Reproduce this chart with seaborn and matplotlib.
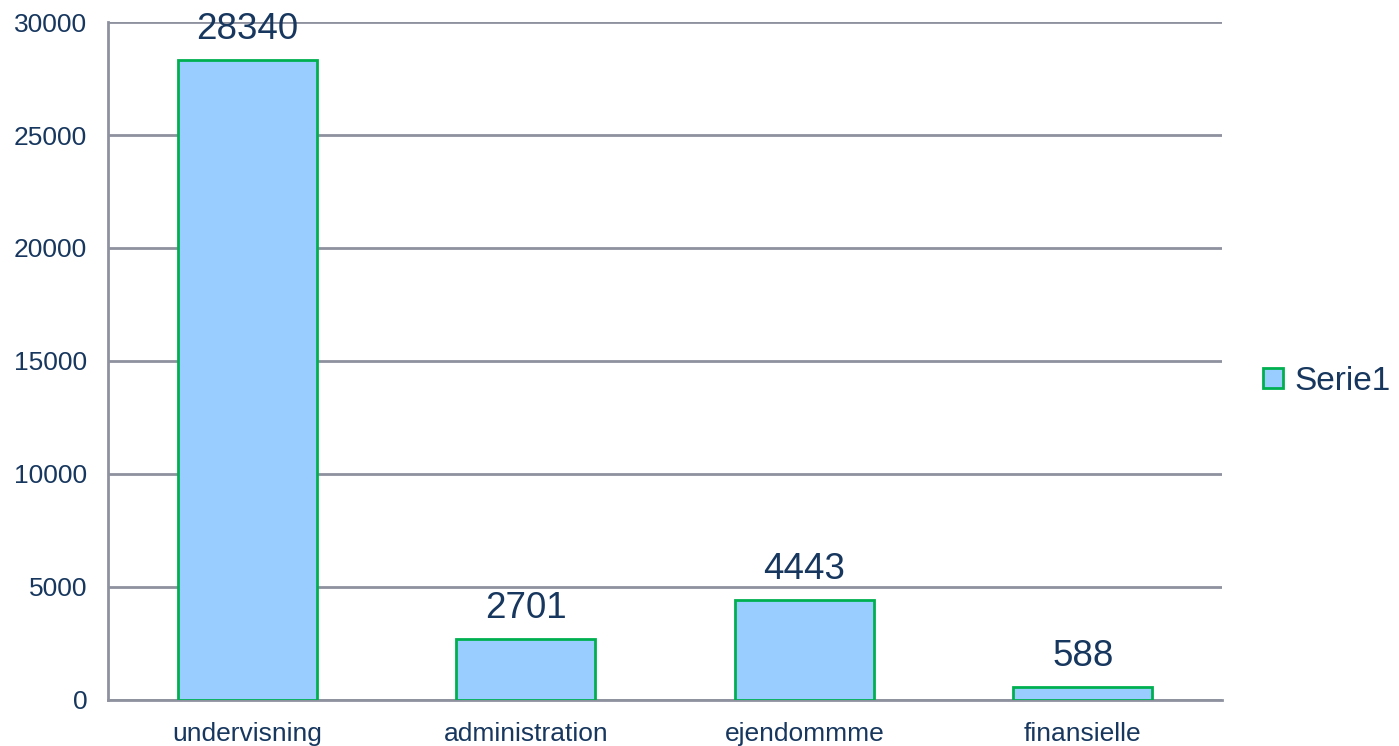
import matplotlib
matplotlib.use("Agg")
import matplotlib.pyplot as plt
import seaborn as sns
from matplotlib.patches import Patch

#Data
categories = ["undervisning", "administration", "ejendommme", "finansielle"]
values = [28340, 2701, 4443, 588]
series_name = "Serie1"

text_col = "#17375E"
grid_col = "#8E929F"
bar_fill = "#99CCFF"
bar_edge = "#00B050"

sns.set_style("white")
plt.rcParams["font.family"] = ["Liberation Sans", "DejaVu Sans"]

fig = plt.figure(figsize=(13.99, 7.46), dpi=100)
ax = fig.add_axes([0.0772, 0.0617, 0.7963, 0.9088])

sns.barplot(x=categories, y=values, width=0.5, color=bar_fill, saturation=1,
            edgecolor=bar_edge, linewidth=2, ax=ax, zorder=3)

ax.set_ylim(0, 30000)
ax.set_xlim(-0.5, 3.5)
ax.set_yticks(range(0, 30001, 5000))
ax.yaxis.grid(True, color=grid_col, linewidth=2, zorder=0)
ax.set_axisbelow(True)

for s in ["top", "right"]:
    ax.spines[s].set_visible(False)
for s in ["left", "bottom"]:
    ax.spines[s].set_color(grid_col)
    ax.spines[s].set_linewidth(2)

# category boundaries as ticks, labels centred without ticks
ax.set_xticks([i - 0.5 for i in range(len(categories) + 1)], minor=True)
ax.tick_params(axis="x", which="minor", length=8, width=2, color=grid_col)
ax.tick_params(axis="x", which="major", length=0, pad=16, labelsize=19, labelcolor=text_col)
ax.tick_params(axis="y", length=7, width=2, color=grid_col, pad=8, labelsize=19, labelcolor=text_col)

ax.bar_label(ax.containers[0], labels=[str(v) for v in values], padding=9,
             fontsize=26.5, color=text_col)

ax.set_xlabel("")
ax.set_ylabel("")

handle = Patch(facecolor=bar_fill, edgecolor=bar_edge, linewidth=2)
ax.legend(handles=[handle], labels=[series_name], loc="center left",
          bbox_to_anchor=(1.037, 0.47), frameon=False, fontsize=24,
          borderaxespad=0, borderpad=0,
          handlelength=0.58, handleheight=0.58, handletextpad=0.35, labelcolor=text_col)

fig.savefig("out.png", dpi=100)
